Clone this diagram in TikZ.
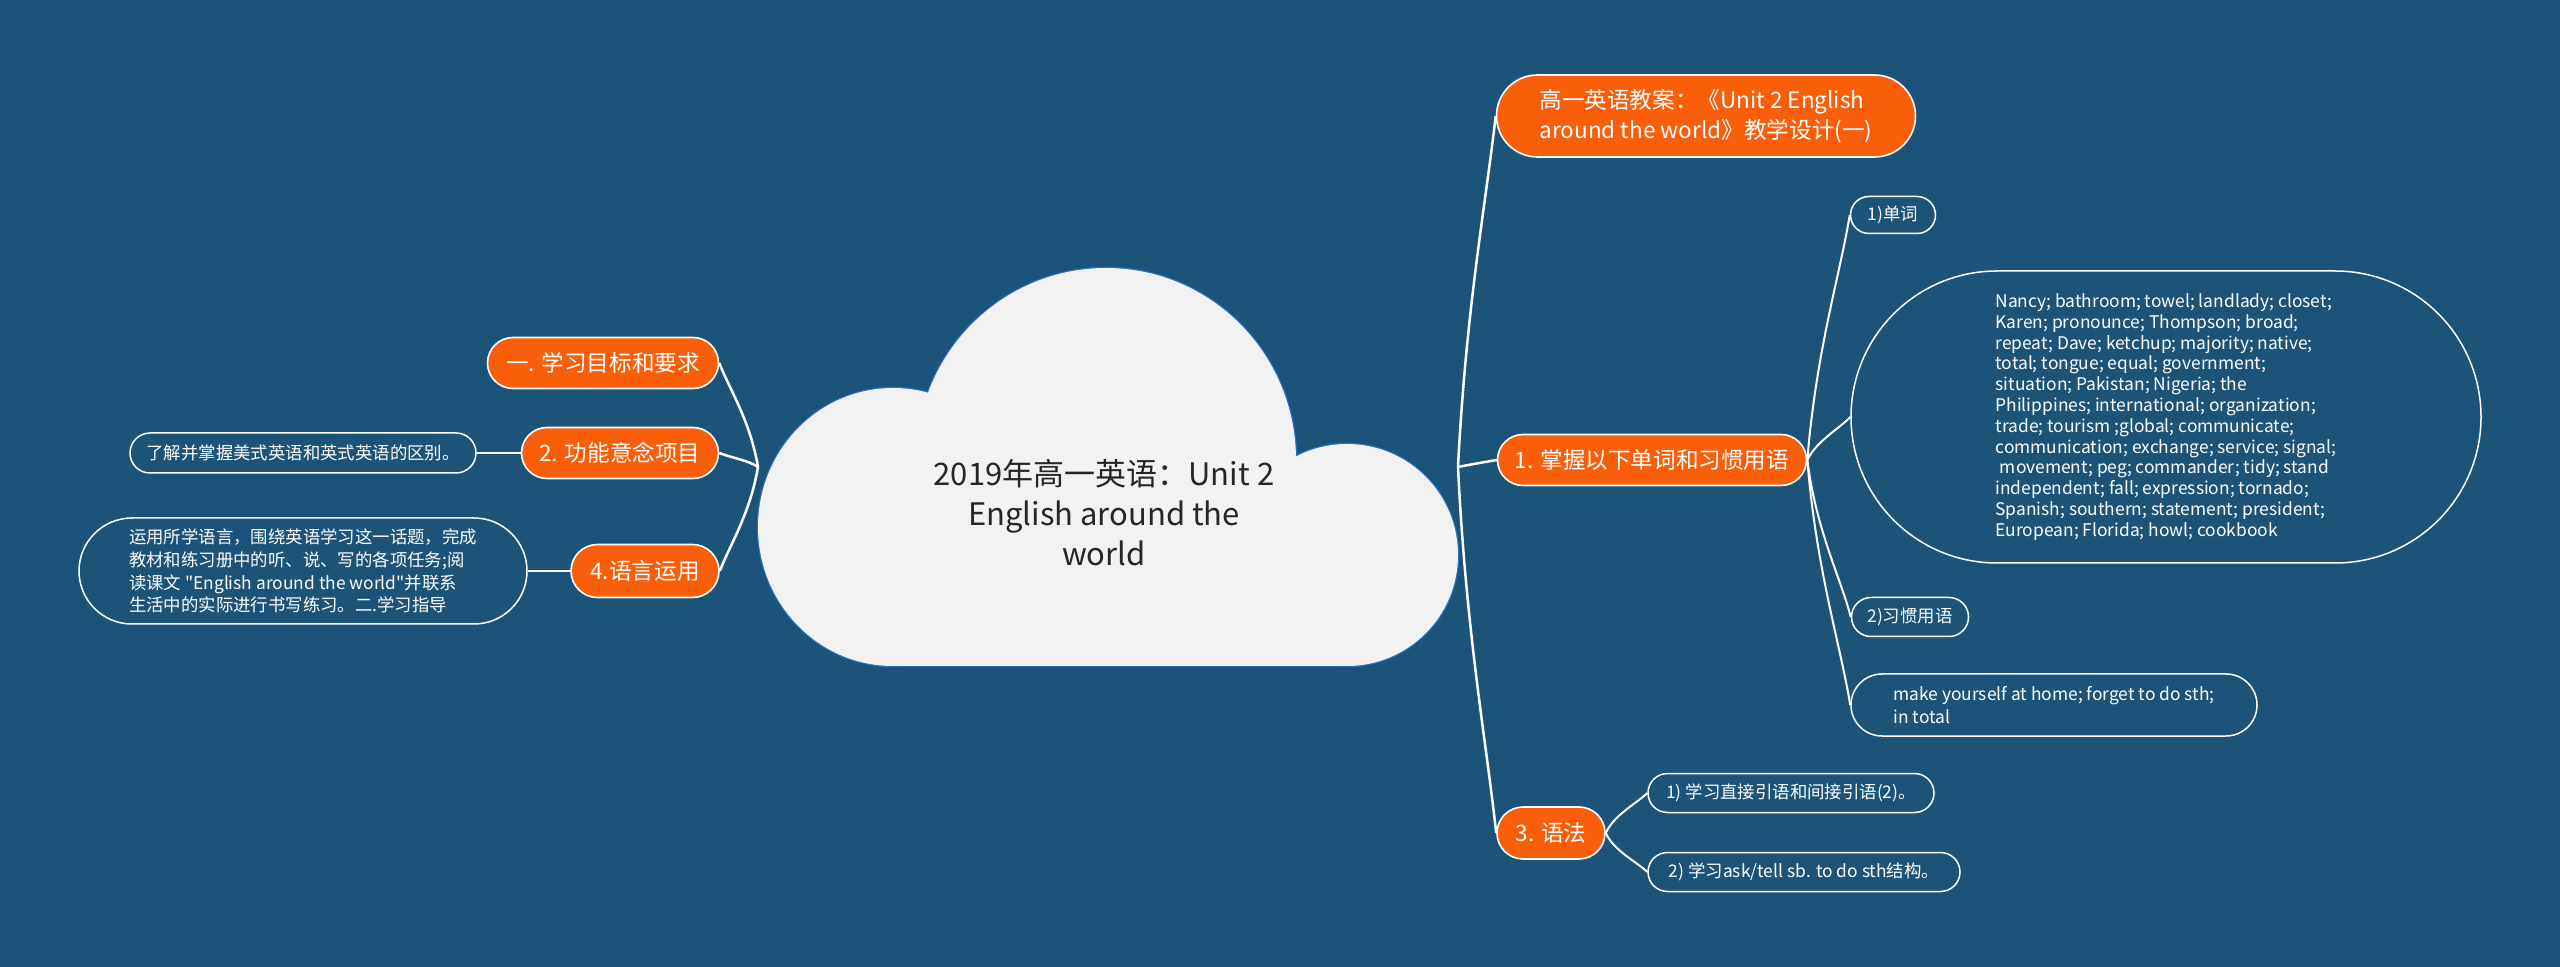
\documentclass[tikz,border=0pt]{standalone}
\usepackage{fontspec}
\setmainfont{Noto Sans CJK SC}[Ligatures=TeXOff]
\usetikzlibrary{shapes.misc}
\definecolor{bg}{RGB}{27,84,120}
\definecolor{orng}{RGB}{249,95,10}
\definecolor{cloudfill}{RGB}{242,242,242}
\definecolor{cloudline}{RGB}{43,111,196}
\definecolor{ctext}{RGB}{38,38,38}
\pgfdeclarelayer{back}
\pgfdeclarelayer{edges}
\pgfsetlayers{back,edges,main}
\tikzset{
  orangebox/.style={rounded rectangle, fill=orng, draw=white, line width=0.8pt, text=white,
    font=\fontsize{11.3}{15}\selectfont, inner xsep=3pt, inner ysep=2pt, minimum height=25.5pt},
  leafbox/.style={rounded rectangle, fill=bg, draw=white, line width=0.75pt, text=white,
    font=\fontsize{8.7}{11.4}\selectfont, inner xsep=2pt, inner ysep=2pt, align=left},
  branch/.style={draw=white, line width=1.25pt},
  twig/.style={draw=white, line width=1pt},
  cloudpart/.style={draw=cloudline, line width=1.2pt},
  cloudfillpart/.style={fill=cloudfill},
}
\begin{document}
\begin{tikzpicture}[x=0.5pt,y=-0.5pt]
\begin{pgfonlayer}{back}
\fill[bg] (0,0) rectangle (2560,967);
% cloud: outlines first, then fills
\draw[cloudpart] (893,527) ellipse [x radius=67.5pt, y radius=69.5pt];
\draw[cloudpart] (1106,460) ellipse [x radius=95pt, y radius=96pt];
\draw[cloudpart] (1347,555) ellipse [x radius=55.5pt, y radius=55.5pt];
\draw[cloudpart] (893,500) rectangle (1347,666);
\fill[cloudfillpart] (893,527) ellipse [x radius=67.5pt, y radius=69.5pt];
\fill[cloudfillpart] (1106,460) ellipse [x radius=95pt, y radius=96pt];
\fill[cloudfillpart] (1347,555) ellipse [x radius=55.5pt, y radius=55.5pt];
\fill[cloudfillpart] (893,500) rectangle (1347,666);
\end{pgfonlayer}
\useasboundingbox (0,0) rectangle (2560,967);

\node[font=\fontsize{15.5}{20}\selectfont, text=ctext, align=center] (root) at (1104,513)
  {2019年高一英语：Unit 2\\English around the\\world};
\coordinate (rR) at (1458,467);
\coordinate (rL) at (758,467);

% right side
\node[orangebox, minimum width=215.5pt, minimum height=41pt, align=left] (A) at (1706,116)
  {高一英语教案：《Unit 2 English\\around the world》教学设计(一)};
\node[orangebox, minimum width=160.5pt] (B) at (1652,460) {1. 掌握以下单词和习惯用语};
\node[orangebox, minimum width=60pt, minimum height=26pt] (C) at (1551,833) {3. 语法};

\node[leafbox, minimum width=46.5pt, minimum height=18.5pt] (B1) at (1893,215) {1)单词};
\node[leafbox, minimum width=319pt, minimum height=146pt, font=\fontsize{8.7}{10.4}\selectfont] (B2) at (2166,417)
  {Nancy; bathroom; towel; landlady; closet;\\
   Karen; pronounce; Thompson; broad;\\
   repeat; Dave; ketchup; majority; native;\\
   total; tongue; equal; government;\\
   situation; Pakistan; Nigeria; the\\
   Philippines; international; organization;\\
   trade; tourism ;global; communicate;\\
   communication; exchange; service; signal;\\
   \hspace*{0.25em}movement; peg; commander; tidy; stand\\
   independent; fall; expression; tornado;\\
   Spanish; southern; statement; president;\\
   European; Florida; howl; cookbook};
\node[leafbox, minimum width=62.5pt, minimum height=19.5pt] (B3) at (1910,617) {2)习惯用语};
\node[leafbox, minimum width=207pt, minimum height=31pt] (B4) at (2054,705)
  {make yourself at home; forget to do sth;\\in total};
\node[leafbox, minimum width=147pt, minimum height=19.5pt] (C1) at (1791,793) {1) 学习直接引语和间接引语(2)。};
\node[leafbox, minimum width=160pt, minimum height=19.5pt] (C2) at (1804,872) {2) 学习ask/tell sb. to do sth结构。};

% left side
\node[orangebox, minimum width=121.5pt] (L1) at (603,363) {一. 学习目标和要求};
\node[orangebox, minimum width=104.5pt] (L2) at (620,453) {2. 功能意念项目};
\node[orangebox, minimum width=80pt, minimum height=26.5pt] (L3) at (645,571) {4.语言运用};
\node[leafbox, minimum width=177pt, minimum height=20pt] (L2a) at (303,453) {了解并掌握美式英语和英式英语的区别。};
\node[leafbox, minimum width=228pt, minimum height=53pt] (L3a) at (303,571)
  {运用所学语言，围绕英语学习这一话题，完成\\
   教材和练习册中的听、说、写的各项任务;阅\\
   读课文 "English around the world"并联系\\
   生活中的实际进行书写练习。二.学习指导};

\begin{pgfonlayer}{edges}
\draw[branch] (rR) .. controls +(8,-158) and +(-10,88) .. (A.west);
\draw[branch] (rR) .. controls +(10,-2) and +(-12,2) .. (B.west);
\draw[branch] (rR) .. controls +(8,165) and +(-10,-92) .. (C.west);
\draw[twig] (B.east) .. controls +(9,-110) and +(-10,61) .. (B1.west);
\draw[twig] (B.east) .. controls +(9,-19) and +(-10,11) .. (B2.west);
\draw[twig] (B.east) .. controls +(9,71) and +(-10,-39) .. (B3.west);
\draw[twig] (B.east) .. controls +(9,110) and +(-10,-61) .. (B4.west);
\draw[twig] (C.east) .. controls +(8,-18) and +(-10,10) .. (C1.west);
\draw[twig] (C.east) .. controls +(8,18) and +(-10,-10) .. (C2.west);
\draw[branch] (rL) .. controls +(-8,-47) and +(10,26) .. (L1.east);
\draw[branch] (rL) .. controls +(-8,-6) and +(10,4) .. (L2.east);
\draw[branch] (rL) .. controls +(-8,47) and +(10,-26) .. (L3.east);
\draw[branch] (L2.west) -- (L2a.east);
\draw[branch] (L3.west) -- (L3a.east);
\end{pgfonlayer}
\end{tikzpicture}
\end{document}
